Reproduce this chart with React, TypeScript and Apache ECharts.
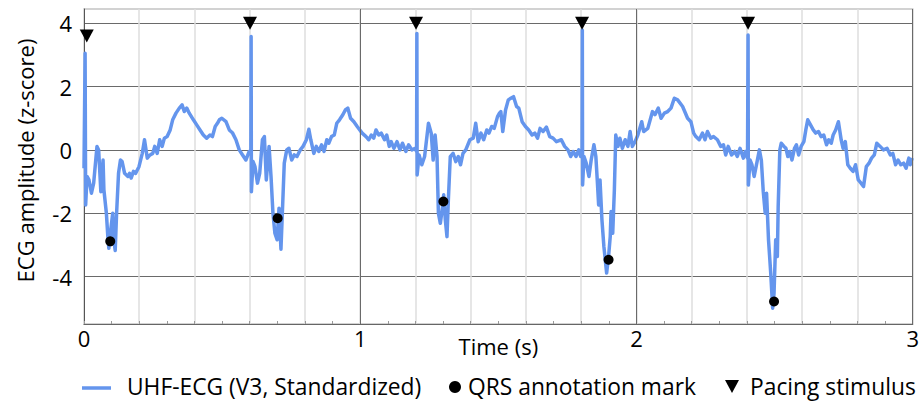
import React, { useEffect, useRef } from "react";
import * as echarts from "echarts";

// ---- Data (time in s, amplitude in z-score) ----
const ecgTime = [
  0.000, 0.004, 0.006, 0.011, 0.018, 0.027, 0.035, 0.047, 0.053, 0.061, 0.069, 0.072, 0.081, 0.087, 0.090, 0.096,
  0.104, 0.108, 0.113, 0.118, 0.125, 0.132, 0.138, 0.147, 0.159, 0.165, 0.171, 0.179, 0.187, 0.199, 0.211, 0.219,
  0.229, 0.239, 0.249, 0.256, 0.265, 0.274, 0.283, 0.291, 0.301, 0.312, 0.321, 0.333, 0.345, 0.355, 0.363, 0.372,
  0.381, 0.396, 0.408, 0.420, 0.432, 0.444, 0.456, 0.465, 0.475, 0.483,
  0.490, 0.499, 0.514, 0.526, 0.538, 0.550, 0.562, 0.574, 0.586, 0.598, 0.604, 0.605, 0.606, 0.612, 0.619, 0.628,
  0.636, 0.646, 0.653, 0.660, 0.670, 0.677, 0.684, 0.691, 0.699, 0.706, 0.713, 0.718, 0.725, 0.734, 0.742, 0.752,
  0.761, 0.771, 0.783, 0.793, 0.805, 0.814, 0.821, 0.832, 0.841, 0.850, 0.860, 0.869, 0.879, 0.886, 0.896, 0.906,
  0.915, 0.925, 0.937, 0.946, 0.955, 0.965, 0.977, 0.989,
  1.007, 1.021, 1.031, 1.040, 1.049, 1.057, 1.067, 1.076, 1.088, 1.096, 1.105, 1.112, 1.122, 1.133, 1.144, 1.153,
  1.165, 1.175, 1.187, 1.199, 1.204, 1.205, 1.206, 1.213, 1.223, 1.233, 1.247, 1.257, 1.264, 1.271, 1.278, 1.283,
  1.290, 1.298, 1.302, 1.308, 1.314, 1.319, 1.326, 1.336, 1.346, 1.355, 1.363, 1.372, 1.382, 1.397, 1.409, 1.418,
  1.427, 1.437, 1.447, 1.458, 1.466, 1.476, 1.485, 1.497,
  1.504, 1.509, 1.516, 1.526, 1.536, 1.545, 1.555, 1.566, 1.574, 1.586, 1.598, 1.610, 1.622, 1.632, 1.642, 1.651,
  1.662, 1.674, 1.686, 1.698, 1.710, 1.728, 1.740, 1.752, 1.762, 1.771, 1.781, 1.791, 1.798, 1.803, 1.804, 1.805,
  1.810, 1.818, 1.828, 1.836, 1.846, 1.853, 1.858, 1.863, 1.868, 1.875, 1.882, 1.892, 1.899, 1.905, 1.908, 1.914,
  1.920, 1.925, 1.933, 1.940, 1.949, 1.959, 1.969, 1.977, 1.985, 1.995, 2.005,
  2.019, 2.026, 2.041, 2.058, 2.067, 2.079, 2.089, 2.101, 2.113, 2.125, 2.137, 2.149, 2.167, 2.185, 2.197, 2.207,
  2.215, 2.227, 2.239, 2.248, 2.257, 2.269, 2.279, 2.293, 2.305, 2.315, 2.323, 2.332, 2.344, 2.356, 2.365, 2.375,
  2.387, 2.394, 2.402, 2.404, 2.405, 2.411, 2.418, 2.426, 2.433, 2.445, 2.452, 2.459, 2.466, 2.471, 2.478, 2.486,
  2.493, 2.498, 2.504, 2.510,
  2.513, 2.519, 2.524, 2.534, 2.541, 2.548, 2.555, 2.563, 2.572, 2.579, 2.587, 2.596, 2.606, 2.613, 2.620, 2.630,
  2.640, 2.649, 2.659, 2.668, 2.678, 2.688, 2.696, 2.705, 2.712, 2.721, 2.731, 2.741, 2.748, 2.756, 2.765, 2.774,
  2.784, 2.793, 2.803, 2.813, 2.822, 2.832, 2.842, 2.851, 2.861, 2.870, 2.882, 2.894, 2.907, 2.919, 2.928, 2.938,
  2.947, 2.957, 2.967, 2.976, 2.986, 2.991, 2.998,
];

const ecgValue = [
  -0.58, 3.05, -1.74, -0.84, -0.95, -1.37, -1.05, 0.11, 0.0, -1.32, -0.32, -1.26, -2.0, -2.84, -3.11, -2.58,
  -2.0, -2.84, -3.18, -2.0, -0.74, -0.32, -0.37, -0.74, -0.84, -0.74, -0.89, -0.68, -0.74, -0.53, -0.11, 0.32,
  -0.26, -0.16, -0.11, 0.11, -0.11, 0.32, 0.11, 0.37, 0.42, 0.63, 0.95, 1.16, 1.32, 1.42, 1.21, 1.32,
  1.16, 0.95, 0.79, 0.63, 0.47, 0.37, 0.47, 0.42, 0.74, 0.84,
  0.95, 1.0, 0.89, 0.63, 0.53, 0.32, 0.0, -0.16, -0.32, -0.05, -0.1, 3.58, -1.32, -0.37, -0.53, -1.05,
  -0.74, 0.32, 0.42, -0.95, 0.11, -0.84, -2.0, -2.63, -2.84, -1.84, -3.14, -2.0, -0.42, 0.0, 0.05, -0.32,
  -0.16, -0.21, 0.0, 0.11, 0.32, 0.65, 0.32, -0.11, 0.11, -0.05, 0.16, -0.05, 0.32, 0.21, 0.42, 0.47,
  0.84, 0.95, 1.11, 1.26, 1.32, 1.0, 0.89, 0.74,
  0.53, 0.42, 0.32, 0.47, 0.37, 0.63, 0.47, 0.53, 0.32, 0.47, 0.11, 0.26, 0.05, 0.26, 0.0, 0.21,
  -0.05, 0.16, 0.0, 0.05, -0.05, 3.68, -0.79, -0.16, -0.47, -0.21, 0.84, 0.53, -0.32, 0.47, -0.21, -2.0,
  -2.32, -1.79, -1.42, -2.21, -2.74, -1.58, -0.21, -0.11, -0.37, -0.21, -0.47, -0.11, 0.0, 0.32, 0.37, 0.84,
  0.26, 0.53, 0.32, 0.63, 0.53, 0.74, 0.68, 1.05,
  1.16, 1.21, 0.58, 1.26, 1.58, 1.63, 1.68, 1.37, 1.32, 0.89, 0.74, 0.63, 0.47, 0.53, 0.37, 0.68,
  0.58, 0.72, 0.42, 0.37, 0.26, 0.32, 0.11, 0.0, -0.21, -0.05, -0.21, 0.0, -0.21, -0.1, 3.79, -1.11,
  -0.21, -0.42, -0.84, -0.32, 0.16, -0.21, -0.95, -1.74, -0.95, -2.21, -3.05, -3.89, -3.37, -2.74, -1.95, -2.63,
  -1.26, 0.47, 0.11, 0.37, 0.05, 0.32, 0.11, 0.58, 0.11, 0.26, 0.47,
  0.89, 0.58, 0.68, 1.21, 1.11, 1.32, 1.0, 1.16, 1.21, 1.32, 1.63, 1.58, 1.37, 1.0, 0.89, 0.53,
  0.42, 0.32, 0.53, 0.32, 0.58, 0.37, 0.42, 0.32, 0.11, 0.16, -0.16, 0.11, -0.16, -0.05, -0.21, 0.05,
  -0.26, -0.05, -0.26, 3.63, -1.11, -0.32, -0.47, -0.84, -0.53, 0.0, -0.32, -1.32, -2.0, -1.37, -2.84, -3.89,
  -5.0, -4.53, -2.84, -3.37,
  -1.79, 0.0, 0.21, 0.11, 0.05, -0.21, -0.05, -0.32, 0.05, 0.16, -0.16, 0.11, 0.26, 0.63, 0.95, 0.79,
  0.63, 0.53, 0.58, 0.42, 0.47, 0.16, 0.32, 0.21, 0.47, 0.63, 0.89, 0.32, 0.05, 0.26, -0.47, -0.58,
  -0.68, -0.47, -0.95, -1.05, -1.16, -0.53, -0.42, -0.26, -0.16, 0.21, 0.11, 0.0, 0.05, -0.16, -0.11, -0.47,
  -0.32, -0.47, -0.42, -0.58, -0.26, -0.47, -0.26,
];

const qrsTime = [0.095, 0.701, 1.301, 1.899, 2.498];
const qrsValue = [-2.89, -2.16, -1.63, -3.47, -4.79];

const pacingTime = [0.01, 0.601, 1.202, 1.803, 2.404];
const pacingValue = [3.6, 4.0, 4.0, 4.0, 4.0];

const majorTimeLines = [1, 2, 3];
const seriesNames = ["UHF-ECG (V3, Standardized)", "QRS annotation mark", "Pacing stimulus"];
const xAxisName = "Time (s)";
const yAxisName = "ECG amplitude (z-score)";

const FONT = "'Open Sans', 'Noto Sans', sans-serif";
const ECG_COLOR = "#6495ED";

const isInt = (v: number) => Math.abs(v - Math.round(v)) < 1e-6;

export default function App() {
  const ref = useRef<HTMLDivElement>(null);

  useEffect(() => {
    if (!ref.current) return;
    const chart = echarts.init(ref.current, null, { renderer: "svg" });

    const ecgData = ecgTime.map((t, i) => [t, ecgValue[i]]);
    const qrsData = qrsTime.map((t, i) => [t, qrsValue[i]]);
    const pacingData = pacingTime.map((t, i) => [t, pacingValue[i]]);

    const legendY = 386;
    const legendFont = 22.8;

    chart.setOption({
      animation: false,
      backgroundColor: "#ffffff",
      textStyle: { fontFamily: FONT },
      grid: {
        left: 84,
        right: 6,
        top: 9,
        bottom: 78,
        show: true,
        borderColor: "#c4c4c4",
        borderWidth: 1.5,
        backgroundColor: "transparent",
      },
      xAxis: {
        type: "value",
        min: 0,
        max: 3,
        interval: 0.2,
        name: xAxisName,
        nameLocation: "middle",
        nameGap: 11,
        nameMoveOverlap: false,
        nameTextStyle: { fontFamily: FONT, fontSize: 22, color: "#000", verticalAlign: "top" },
        axisLine: { show: true, onZero: false, lineStyle: { color: "#666", width: 1 } },
        axisTick: { show: true, inside: true, length: 3, lineStyle: { color: "#999" } },
        minorTick: { show: true, splitNumber: 2, length: 3, lineStyle: { color: "#999" } },
        axisLabel: {
          fontFamily: FONT,
          fontSize: 22,
          color: "#000",
          margin: 3,
          showMinLabel: true,
          showMaxLabel: true,
          formatter: (v: number) => (isInt(v) ? String(Math.round(v)) : ""),
        },
        splitLine: { show: true, lineStyle: { color: "#dedede", width: 1.5 } },
      },
      yAxis: {
        type: "value",
        min: -5.5,
        max: 4.45,
        splitNumber: 5,
        name: yAxisName,
        nameLocation: "middle",
        nameGap: 48,
        nameTextStyle: { fontFamily: FONT, fontSize: 22, color: "#000", padding: [0, 0, 0, 12] },
        axisLine: { show: true, onZero: false, lineStyle: { color: "#555", width: 1 } },
        axisTick: { show: false },
        axisLabel: {
          fontFamily: FONT,
          fontSize: 22,
          color: "#000",
          margin: 12,
          formatter: (v: number) => (isInt(v) ? String(Math.round(v)) : ""),
        },
        splitLine: {
          show: true,
          showMinLine: false,
          showMaxLine: false,
          lineStyle: { color: "#6a6a6a", width: 1 },
        },
      },
      series: [
        {
          name: "grid-major",
          type: "line",
          data: [],
          z: 1,
          silent: true,
          markLine: {
            silent: true,
            symbol: "none",
            label: { show: false },
            lineStyle: { color: "#6a6a6a", width: 1, type: "solid" },
            data: majorTimeLines.map((t) => ({ xAxis: t })),
          },
        },
        {
          name: seriesNames[0],
          type: "line",
          data: ecgData,
          z: 2,
          showSymbol: false,
          symbol: "none",
          lineStyle: { color: ECG_COLOR, width: 3.5, join: "round" },
          clip: true,
        },
        {
          name: seriesNames[1],
          type: "scatter",
          data: qrsData,
          z: 3,
          symbol: "circle",
          symbolSize: 10,
          itemStyle: { color: "#000", opacity: 1 },
        },
        {
          name: seriesNames[2],
          type: "scatter",
          data: pacingData,
          z: 3,
          symbol: "triangle",
          symbolRotate: 180,
          symbolSize: [14, 13],
          itemStyle: { color: "#000", opacity: 1 },
        },
      ],
      graphic: [
        {
          type: "line",
          shape: { x1: 82, y1: legendY + 2, x2: 111, y2: legendY + 2 },
          style: { stroke: ECG_COLOR, lineWidth: 3.5 },
        },
        {
          type: "text",
          x: 127,
          y: legendY,
          style: { text: seriesNames[0], fontFamily: FONT, fontSize: legendFont, fill: "#000", verticalAlign: "middle", align: "left" },
        },
        { type: "circle", shape: { cx: 455, cy: legendY + 1, r: 6 }, style: { fill: "#000" } },
        {
          type: "text",
          x: 468,
          y: legendY,
          style: { text: seriesNames[1], fontFamily: FONT, fontSize: legendFont, fill: "#000", verticalAlign: "middle", align: "left" },
        },
        {
          type: "polygon",
          shape: { points: [[725, legendY - 6], [739, legendY - 6], [732, legendY + 7]] },
          style: { fill: "#000" },
        },
        {
          type: "text",
          x: 750,
          y: legendY,
          style: { text: seriesNames[2], fontFamily: FONT, fontSize: legendFont, fill: "#000", verticalAlign: "middle", align: "left" },
        },
      ],
    });

    return () => chart.dispose();
  }, []);

  return <div ref={ref} style={{ position: "fixed", left: 0, top: 0, width: 922, height: 402 }} />;
}
